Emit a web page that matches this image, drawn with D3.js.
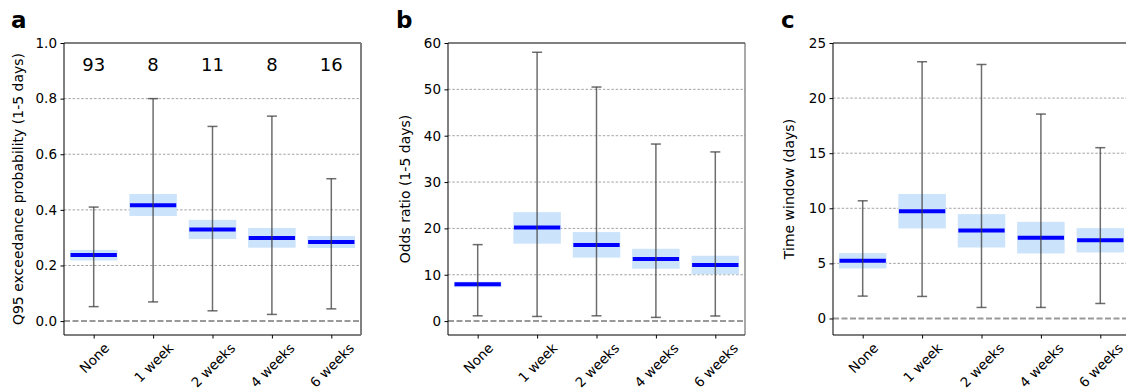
<!DOCTYPE html>
<html>
<head>
<meta charset="utf-8">
<script src="https://cdn.jsdelivr.net/npm/d3@7"></script>
<style>
  body { margin: 0; background: #fff; }
  svg { display: block; font-family: "DejaVu Sans", sans-serif; }
</style>
</head>
<body>
<svg id="chart" width="1126" height="389"></svg>
<script>
const categories = ['None', '1 week', '2 weeks', '4 weeks', '6 weeks'];
const counts = [93, 8, 11, 8, 16];

// panel a: Q95 exceedance probability
const probMedian = [0.238, 0.417, 0.329, 0.299, 0.284];
const probBoxLow = [0.218, 0.378, 0.295, 0.264, 0.263];
const probBoxHigh = [0.256, 0.457, 0.364, 0.335, 0.306];
const probWhiskLow = [0.052, 0.069, 0.037, 0.024, 0.044];
const probWhiskHigh = [0.41, 0.80, 0.70, 0.737, 0.512];

// panel b: odds ratio
const oddsMedian = [7.97, 20.2, 16.4, 13.4, 12.1];
const oddsBoxLow = [7.3, 16.7, 13.7, 11.3, 10.1];
const oddsBoxHigh = [8.5, 23.5, 19.2, 15.6, 14.1];
const oddsWhiskLow = [1.14, 1.0, 1.14, 0.8, 1.1];
const oddsWhiskHigh = [16.5, 58.0, 50.5, 38.2, 36.5];

// panel c: time window
const timeMedian = [5.24, 9.74, 7.99, 7.32, 7.1];
const timeBoxLow = [4.54, 8.17, 6.44, 5.9, 5.99];
const timeBoxHigh = [5.93, 11.3, 9.47, 8.77, 8.2];
const timeWhiskLow = [2.03, 2.0, 1.0, 1.0, 1.36];
const timeWhiskHigh = [10.68, 23.3, 23.05, 18.55, 15.5];

const panels = [
  { letter: 'a', left: 64, label: 'Q95 exceedance probability (1-5 days)', domain: [-0.05, 1.0],
    ticks: [0, 0.2, 0.4, 0.6, 0.8, 1.0], fmt: d3.format('.1f'), showCounts: true,
    med: probMedian, lo: probBoxLow, hi: probBoxHigh, wlo: probWhiskLow, whi: probWhiskHigh,
    letterX: 11, labelX: 18, rightSpine: '#808080' },
  { letter: 'b', left: 448, label: 'Odds ratio (1-5 days)', domain: [-3, 60],
    ticks: [0, 10, 20, 30, 40, 50, 60], fmt: d3.format('d'), showCounts: false,
    med: oddsMedian, lo: oddsBoxLow, hi: oddsBoxHigh, wlo: oddsWhiskLow, whi: oddsWhiskHigh,
    letterX: 396, labelX: 405, rightSpine: '#555' },
  { letter: 'c', left: 833, label: 'Time window (days)', domain: [-1.5, 25],
    ticks: [0, 5, 10, 15, 20, 25], fmt: d3.format('d'), showCounts: false,
    med: timeMedian, lo: timeBoxLow, hi: timeBoxHigh, wlo: timeWhiskLow, whi: timeWhiskHigh,
    letterX: 781, labelX: 789, rightSpine: '#555' }
];

const svg = d3.select('#chart');
const plotTop = 43, plotBottom = 335, plotW = 297;
const tickFont = 13.5, labelFont = 14;

panels.forEach(p => {
  const g = svg.append('g');
  const x = d3.scaleLinear().domain([-0.5, categories.length - 0.5]).range([p.left, p.left + plotW]);
  const y = d3.scaleLinear().domain(p.domain).range([plotBottom, plotTop]);
  const idx = d3.range(categories.length);

  // grid lines
  g.selectAll('.grid').data(p.ticks.filter(t => t !== 0 && t !== p.domain[1])).enter()
    .append('line')
    .attr('x1', p.left).attr('x2', p.left + plotW)
    .attr('y1', d => y(d)).attr('y2', d => y(d))
    .attr('stroke', '#8c8c8c').attr('stroke-width', 0.8)
    .attr('stroke-dasharray', '2.5,1.8');

  // zero line
  g.append('line')
    .attr('x1', p.left).attr('x2', p.left + plotW)
    .attr('y1', y(0)).attr('y2', y(0))
    .attr('stroke', '#999').attr('stroke-width', 2)
    .attr('stroke-dasharray', '6,2.5');

  const bw = 0.8;
  // boxes
  g.selectAll('.box').data(idx).enter().append('rect')
    .attr('x', i => x(i - bw / 2))
    .attr('width', x(bw) - x(0))
    .attr('y', i => y(p.hi[i]))
    .attr('height', i => y(p.lo[i]) - y(p.hi[i]))
    .attr('fill', '#cce4fb');

  // medians
  g.selectAll('.med').data(idx).enter().append('line')
    .attr('x1', i => x(i - 0.39)).attr('x2', i => x(i + 0.39))
    .attr('y1', i => y(p.med[i])).attr('y2', i => y(p.med[i]))
    .attr('stroke', '#0000ff').attr('stroke-width', 4);

  // whiskers
  const wc = 'rgba(60,60,60,0.75)';
  g.selectAll('.wl').data(idx).enter().append('line')
    .attr('x1', i => x(i)).attr('x2', i => x(i))
    .attr('y1', i => y(p.wlo[i])).attr('y2', i => y(p.whi[i]))
    .attr('stroke', wc).attr('stroke-width', 1.5);
  [p.wlo, p.whi].forEach(arr => {
    g.selectAll(null).data(idx).enter().append('line')
      .attr('x1', i => x(i) - 5).attr('x2', i => x(i) + 5)
      .attr('y1', i => y(arr[i])).attr('y2', i => y(arr[i]))
      .attr('stroke', wc).attr('stroke-width', 1.5);
  });

  // counts
  if (p.showCounts) {
    g.selectAll('.cnt').data(idx).enter().append('text')
      .attr('x', i => x(i)).attr('y', 71)
      .attr('text-anchor', 'middle')
      .attr('font-size', 18)
      .attr('fill', '#000')
      .text(i => counts[i]);
  }

  // spines
  const right = p.left + plotW;
  g.append('line').attr('x1', p.left).attr('x2', right).attr('y1', plotTop).attr('y2', plotTop)
    .attr('stroke', '#000').attr('stroke-width', 1);
  g.append('line').attr('x1', p.left).attr('x2', right).attr('y1', plotBottom).attr('y2', plotBottom)
    .attr('stroke', '#000').attr('stroke-width', 1);
  g.append('line').attr('x1', p.left).attr('x2', p.left).attr('y1', plotTop).attr('y2', plotBottom)
    .attr('stroke', '#000').attr('stroke-width', 1);
  g.append('line').attr('x1', right).attr('x2', right).attr('y1', plotTop).attr('y2', plotBottom)
    .attr('stroke', p.rightSpine).attr('stroke-width', p.letter === 'a' ? 2 : 1);

  // y axis
  const yAxis = d3.axisLeft(y).tickValues(p.ticks).tickFormat(p.fmt).tickSize(3.5).tickPadding(3.5);
  const ya = g.append('g').attr('transform', `translate(${p.left},0)`).call(yAxis);
  ya.select('.domain').remove();
  ya.selectAll('text').attr('font-size', tickFont).attr('fill', '#000').attr('font-family', '"DejaVu Sans", sans-serif');
  ya.selectAll('line').attr('stroke', '#000');

  // x axis
  const xAxis = d3.axisBottom(x).tickValues(idx).tickFormat(i => categories[i]).tickSize(3.5);
  const xa = g.append('g').attr('transform', `translate(0,${plotBottom})`).call(xAxis);
  xa.select('.domain').remove();
  xa.selectAll('line').attr('stroke', '#000');
  xa.selectAll('text').each(function (i) {
    const t = d3.select(this)
      .attr('font-size', tickFont).attr('fill', '#000')
      .attr('font-family', '"DejaVu Sans", sans-serif')
      .attr('text-anchor', 'middle').attr('dy', null)
      .attr('dominant-baseline', 'central');
    const w = this.getComputedTextLength();
    const h = tickFont * 0.72;
    const c = (w + h) / (2 * Math.SQRT2);
    t.attr('y', null).attr('transform', `translate(0,${7 + c}) rotate(-45)`);
  });

  // y label
  g.append('text')
    .attr('transform', `translate(${p.labelX},${(plotTop + plotBottom) / 2}) rotate(-90)`)
    .attr('text-anchor', 'middle').attr('dominant-baseline', 'central')
    .attr('font-size', labelFont).attr('fill', '#000')
    .text(p.label);

  // panel letter
  g.append('text')
    .attr('x', p.letterX).attr('y', 28)
    .attr('font-size', 23).attr('font-weight', 'bold').attr('fill', '#000')
    .text(p.letter);
});
</script>
</body>
</html>
